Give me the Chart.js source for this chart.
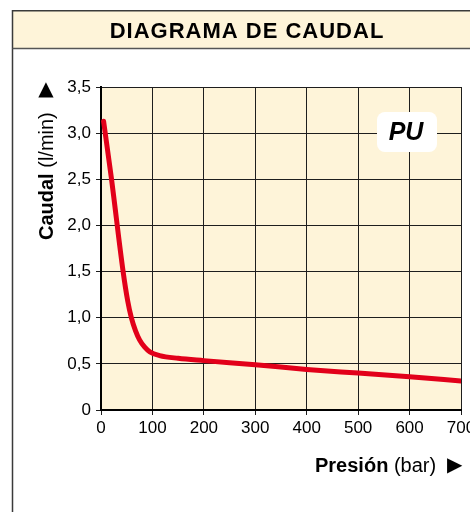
<!DOCTYPE html>
<html>
<head>
<meta charset="utf-8">
<script src="https://cdn.jsdelivr.net/npm/chart.js@4"></script>
<style>
  body { margin: 0; background: #fff; }
  canvas { display: block; }
</style>
</head>
<body>
<canvas id="grafica" width="470" height="512"></canvas>
<script>
// presión (bar) y caudal (l/min)
const presion = [5, 20, 43, 52, 59, 67, 75, 85, 95, 114, 150, 200, 300, 400, 500, 600, 700];
const caudal = [3.13, 2.52, 1.5, 1.18, 1.0, 0.86, 0.76, 0.68, 0.63, 0.59, 0.56, 0.535, 0.49, 0.44, 0.40, 0.36, 0.315];
const ticksPresion = [0, 100, 200, 300, 400, 500, 600, 700];
const ticksCaudal = [0, 0.5, 1, 1.5, 2, 2.5, 3, 3.5];

const titulo = "DIAGRAMA DE CAUDAL";
const etiquetaModelo = "PU";

const crema = "#fef4d9";
const fuente = "'Liberation Sans', Arial, sans-serif";

const puntos = presion.map((p, i) => ({ x: p, y: caudal[i] }));

function formatoComa(v) {
  if (v === 0) return "0";
  return v.toFixed(1).replace(".", ",");
}

const fondo = {
  id: "fondo",
  beforeDraw(chart) {
    const ctx = chart.ctx;
    const a = chart.chartArea;
    ctx.save();
    ctx.fillStyle = "#fff";
    ctx.fillRect(0, 0, chart.width, chart.height);
    // banda del título
    ctx.fillStyle = crema;
    ctx.fillRect(13, 11, chart.width - 13, 37);
    ctx.strokeStyle = "#3a3a3a";
    ctx.lineWidth = 1.5;
    ctx.beginPath();
    ctx.moveTo(chart.width, 10.75);
    ctx.lineTo(12.5, 10.75);
    ctx.lineTo(12.5, chart.height);
    ctx.stroke();
    ctx.strokeStyle = "#555";
    ctx.beginPath();
    ctx.moveTo(12.5, 48.5);
    ctx.lineTo(chart.width, 48.5);
    ctx.stroke();
    // zona del gráfico
    ctx.fillStyle = crema;
    ctx.fillRect(a.left, a.top, a.right - a.left, a.bottom - a.top);
    ctx.restore();
  },
  afterDraw(chart) {
    const ctx = chart.ctx;
    ctx.save();
    ctx.fillStyle = "#000";
    ctx.textBaseline = "middle";
    ctx.textAlign = "center";
    ctx.font = "bold 22px " + fuente;
    ctx.letterSpacing = "1px";
    ctx.fillText(titulo, 247, 32);
    ctx.letterSpacing = "0px";

    // título eje Y (girado)
    ctx.save();
    ctx.translate(47, 240);
    ctx.rotate(-Math.PI / 2);
    ctx.textAlign = "left";
    ctx.font = "bold 20px " + fuente;
    ctx.fillText("Caudal", 0, 0);
    let w = ctx.measureText("Caudal ").width;
    ctx.font = "20px " + fuente;
    ctx.fillText("(l/min)", w, 0);
    ctx.restore();
    ctx.font = "20px 'DejaVu Sans', sans-serif";
    ctx.fillText("▲", 46, 90);

    // título eje X
    ctx.textAlign = "left";
    ctx.font = "bold 20px " + fuente;
    ctx.fillText("Presión", 315, 466);
    w = ctx.measureText("Presión ").width;
    ctx.font = "20px " + fuente;
    ctx.fillText("(bar)", 315 + w, 466);
    ctx.font = "20px 'DejaVu Sans', sans-serif";
    ctx.fillText("▶", 447, 466);

    // etiqueta PU
    ctx.fillStyle = "#fff";
    ctx.beginPath();
    ctx.roundRect(377, 112, 60, 40, 8);
    ctx.fill();
    ctx.fillStyle = "#000";
    ctx.textAlign = "center";
    ctx.font = "italic bold 25px " + fuente;
    ctx.fillText(etiquetaModelo, 406, 133);
    ctx.restore();
  }
};

new Chart(document.getElementById("grafica"), {
  type: "line",
  data: {
    datasets: [{
      data: puntos,
      borderColor: "#e2001a",
      borderWidth: 5,
      pointRadius: 0,
      fill: false,
      cubicInterpolationMode: "monotone",
      borderCapStyle: "round"
    }]
  },
  options: {
    responsive: false,
    animation: false,
    devicePixelRatio: 1,
    layout: { padding: { left: 0, top: 87, right: 9, bottom: 72 } },
    plugins: {
      legend: { display: false },
      tooltip: { enabled: false }
    },
    scales: {
      x: {
        type: "linear",
        min: 0,
        max: 700,
        afterBuildTicks: s => { s.ticks = ticksPresion.map(v => ({ value: v })); },
        afterFit: s => { s.height = 30; s.paddingLeft = 0; s.paddingRight = 0; },
        grid: { color: "#1e1e1e", lineWidth: 1, tickLength: 5 },
        border: { color: "#000", width: 2 },
        ticks: {
          color: "#000",
          padding: 3,
          maxRotation: 0,
          font: { family: fuente, size: 17 },
          callback: v => String(v)
        }
      },
      y: {
        min: 0,
        max: 3.5,
        afterBuildTicks: s => { s.ticks = ticksCaudal.map(v => ({ value: v })); },
        afterFit: s => { s.width = 101; s.paddingTop = 0; s.paddingBottom = 0; },
        grid: { color: "#1e1e1e", lineWidth: 1, tickLength: 5 },
        border: { color: "#000", width: 2 },
        ticks: {
          color: "#000",
          padding: 5,
          font: { family: fuente, size: 17 },
          callback: v => formatoComa(v)
        }
      }
    }
  },
  plugins: [fondo]
});
</script>
</body>
</html>
